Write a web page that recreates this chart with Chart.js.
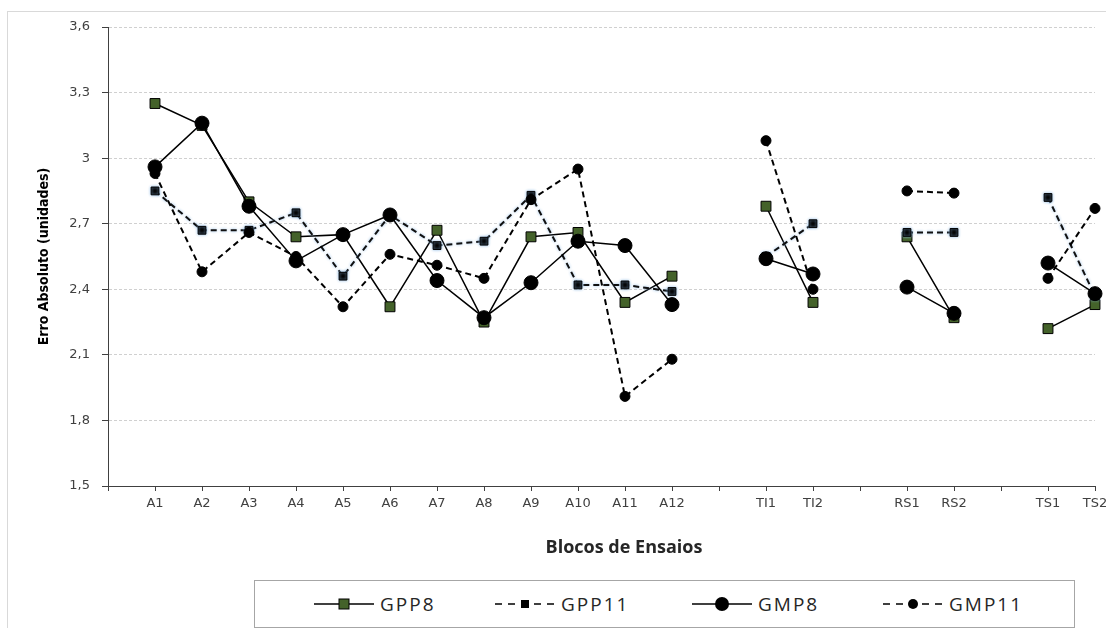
<!DOCTYPE html>
<html lang="pt">
<head>
  <meta charset="UTF-8">
  <title>Erro Absoluto por Blocos de Ensaios</title>
  <script src="https://cdn.jsdelivr.net/npm/chart.js"></script>
  <style>
    body {
      margin: 0;
      padding: 0;
      background: #fff;
      width: 1106px;
      height: 628px;
      overflow: hidden;
      position: relative;
    }

    .frame {
      position: absolute;
      left: 7px;
      top: 11px;
      width: 1200px;
      height: 700px;
      border: 1px solid #d9d9d9;
    }

    #chart {
      position: absolute;
      left: 0;
      top: 0;
    }

    .legend {
      position: absolute;
      left: 254px;
      top: 580px;
      width: 819px;
      height: 46px;
      border: 1px solid #a6a6a6;
      background: #fff;
    }

    .legend .item {
      position: absolute;
      top: 0;
      height: 46px;
      display: flex;
      align-items: center;
      font-family: "Open Sans", sans-serif;
      font-size: 19px;
      letter-spacing: 2px;
      color: #262626;
    }

    .legend svg {
      margin-right: 6px;
    }
  </style>
</head>

<body>
  <div class="frame"></div>
  <canvas id="chart" width="1106" height="628"></canvas>
  <div class="legend" id="legend"></div>

  <script>
    // Blocos de ensaios (posicoes vazias separam os grupos)
    const blocos = ['', 'A1', 'A2', 'A3', 'A4', 'A5', 'A6', 'A7', 'A8', 'A9', 'A10', 'A11', 'A12',
      '', 'TI1', 'TI2', '', 'RS1', 'RS2', '', 'TS1', 'TS2'];

    const seriesNames = ['GPP8', 'GPP11', 'GMP8', 'GMP11'];

    const gpp8 = [null, 3.25, 3.15, 2.80, 2.64, 2.65, 2.32, 2.67, 2.25, 2.64, 2.66, 2.34, 2.46,
      null, 2.78, 2.34, null, 2.64, 2.27, null, 2.22, 2.33];
    const gpp11 = [null, 2.85, 2.67, 2.67, 2.75, 2.46, 2.74, 2.60, 2.62, 2.83, 2.42, 2.42, 2.39,
      null, 2.55, 2.70, null, 2.66, 2.66, null, 2.82, 2.37];
    const gmp8 = [null, 2.96, 3.16, 2.78, 2.53, 2.65, 2.74, 2.44, 2.27, 2.43, 2.62, 2.60, 2.33,
      null, 2.54, 2.47, null, 2.41, 2.29, null, 2.52, 2.38];
    const gmp11 = [null, 2.93, 2.48, 2.66, 2.55, 2.32, 2.56, 2.51, 2.45, 2.81, 2.95, 1.91, 2.08,
      null, 3.08, 2.40, null, 2.85, 2.84, null, 2.45, 2.77];

    const yMin = 1.5, yMax = 3.6, yStep = 0.3;

    const green = '#44622a';

    // light blue halo around the GPP11 series, like the original
    const haloPlugin = {
      id: 'halo',
      beforeDatasetDraw(chart, args) {
        if (args.index !== 1) return;
        chart.ctx.save();
        chart.ctx.shadowColor = 'rgba(140, 185, 230, 0.95)';
        chart.ctx.shadowBlur = 3;
      },
      afterDatasetDraw(chart, args) {
        if (args.index !== 1) return;
        chart.ctx.restore();
      }
    };

    // x axis title, drawn a bit right of the plot centre as in the original
    const xTitlePlugin = {
      id: 'xTitle',
      afterDraw(chart) {
        const ctx = chart.ctx;
        ctx.save();
        ctx.font = 'bold 18px "Open Sans", sans-serif';
        ctx.fillStyle = '#262626';
        ctx.textAlign = 'center';
        ctx.textBaseline = 'middle';
        ctx.fillText('Blocos de Ensaios', 624, 548);
        ctx.restore();
      }
    };

    const ctx = document.getElementById('chart').getContext('2d');

    new Chart(ctx, {
      type: 'line',
      data: {
        labels: blocos,
        datasets: [
          {
            label: seriesNames[0],
            data: gpp8,
            order: 4,
            borderColor: '#000',
            borderWidth: 1.5,
            pointStyle: 'rect',
            pointRadius: 7,
            pointBackgroundColor: green,
            pointBorderColor: '#000',
            pointBorderWidth: 1
          },
          {
            label: seriesNames[1],
            data: gpp11,
            order: 3,
            borderColor: '#111',
            borderWidth: 2,
            borderDash: [6, 4],
            pointStyle: 'rect',
            pointRadius: 5.5,
            pointBackgroundColor: '#000',
            pointBorderColor: '#000',
            pointBorderWidth: 1
          },
          {
            label: seriesNames[2],
            data: gmp8,
            order: 2,
            borderColor: '#000',
            borderWidth: 1.5,
            pointStyle: 'circle',
            pointRadius: 7,
            pointBackgroundColor: '#000',
            pointBorderColor: '#000',
            pointBorderWidth: 1
          },
          {
            label: seriesNames[3],
            data: gmp11,
            order: 1,
            borderColor: '#000',
            borderWidth: 2,
            borderDash: [6, 4],
            pointStyle: 'circle',
            pointRadius: 5,
            pointBackgroundColor: '#000',
            pointBorderColor: '#000',
            pointBorderWidth: 1
          }
        ]
      },
      options: {
        responsive: false,
        animation: false,
        spanGaps: false,
        layout: {
          padding: { left: 8, right: 11, top: 27, bottom: 0 }
        },
        plugins: {
          legend: { display: false },
          tooltip: { enabled: false }
        },
        scales: {
          x: {
            type: 'category',
            offset: false,
            grid: {
              drawOnChartArea: false,
              color: '#404040',
              tickLength: 5
            },
            border: { color: '#404040', width: 1 },
            ticks: {
              autoSkip: false,
              maxRotation: 0,
              padding: 5,
              color: '#404040',
              font: { family: '"DejaVu Sans", sans-serif', size: 13 }
            },
            afterFit(scale) {
              scale.height = 142;
              scale.paddingLeft = 0;
              scale.paddingRight = 0;
            }
          },
          y: {
            min: yMin,
            max: yMax,
            grid: {
              color: '#d0d0d0',
              tickColor: '#404040',
              tickLength: 6
            },
            border: { color: '#404040', width: 1, dash: [3, 2] },
            ticks: {
              stepSize: yStep,
              padding: 12,
              color: '#404040',
              font: { family: '"DejaVu Sans", sans-serif', size: 13 },
              callback: v => String(+Number(v).toFixed(1)).replace('.', ',')
            },
            title: {
              display: true,
              text: 'Erro Absoluto (unidades)',
              color: '#000',
              padding: { top: 28, bottom: 0 },
              font: { family: '"Liberation Sans Narrow", "DejaVu Sans Condensed", sans-serif', size: 14, weight: 'bold' }
            },
            afterFit(scale) {
              scale.width = 100;
              scale.paddingTop = 0;
              scale.paddingBottom = 0;
            }
          }
        }
      },
      plugins: [haloPlugin, xTitlePlugin]
    });

    // legend: line sample with marker, then the series name
    const legendX = [59, 240, 437, 628];
    const markers = [
      '<rect x="25" y="3" width="10" height="10" fill="' + green + '" stroke="#000" stroke-width="1"/>',
      '<rect x="26" y="4" width="8" height="8" fill="#000"/>',
      '<circle cx="30" cy="8" r="7" fill="#000"/>',
      '<circle cx="30" cy="8" r="5" fill="#000"/>'
    ];
    const dashed = [false, true, false, true];
    const legend = document.getElementById('legend');
    seriesNames.forEach((name, i) => {
      const dash = dashed[i] ? ' stroke-dasharray="7 6"' : '';
      const item = document.createElement('div');
      item.className = 'item';
      item.style.left = legendX[i] + 'px';
      item.innerHTML =
        '<svg width="60" height="16" viewBox="0 0 60 16">' +
        '<line x1="0" y1="8" x2="60" y2="8" stroke="#000" stroke-width="1.5"' + dash + '/>' +
        markers[i] + '</svg><span>' + name + '</span>';
      legend.appendChild(item);
    });
  </script>
</body>
</html>
